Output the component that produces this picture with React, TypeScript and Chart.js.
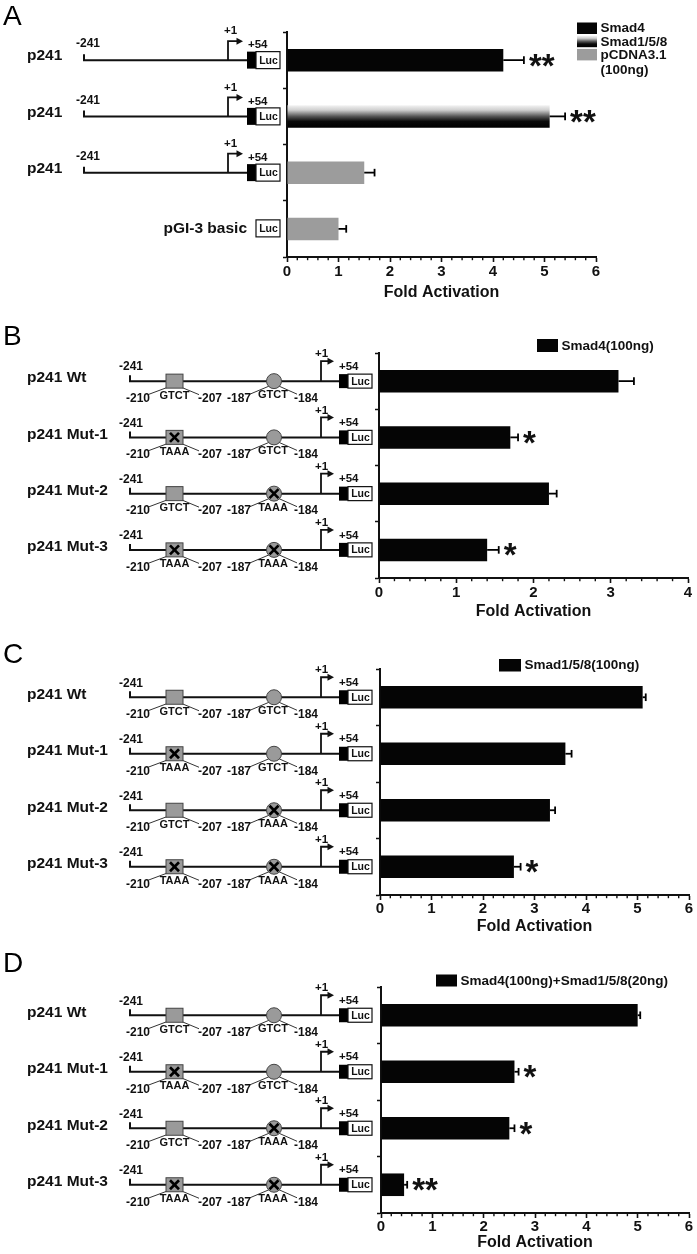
import React, { useEffect, useRef } from 'react';
import { Chart, registerables } from 'chart.js';

Chart.register(...registerables);

const FONT = '"Liberation Sans", Arial, Helvetica, sans-serif';
const INK = '#111111';
const BAR_BLACK = '#050505';
const BAR_GRAY = '#9c9c9c';
const SITE_GRAY = '#9a9a9a';

// ---------------- data ----------------
const xTitle = 'Fold Activation';

// Panel A
const aRows = ['p241', 'p241', 'p241', 'pGI-3 basic'];
const aValues = [4.2, 5.1, 1.5, 1.0];
const aErrors = [0.4, 0.3, 0.2, 0.15];
const aStars = ['**', '**', '', ''];
const aTreatment = ['Smad4', 'Smad1/5/8', 'pCDNA3.1', 'pCDNA3.1'];
const aLegendSeries = ['Smad4', 'Smad1/5/8', 'pCDNA3.1'];
const aLegendNote = '(100ng)';
const aXMax = 6;

// Panel B
const bRows = ['p241 Wt', 'p241 Mut-1', 'p241 Mut-2', 'p241 Mut-3'];
const bValues = [3.1, 1.7, 2.2, 1.4];
const bErrors = [0.2, 0.1, 0.1, 0.15];
const bStars = ['', '*', '', '*'];
const bLegend = 'Smad4(100ng)';
const bXMax = 4;

// Panel C
const cRows = ['p241 Wt', 'p241 Mut-1', 'p241 Mut-2', 'p241 Mut-3'];
const cValues = [5.1, 3.6, 3.3, 2.6];
const cErrors = [0.06, 0.12, 0.1, 0.13];
const cStars = ['', '', '', '*'];
const cLegend = 'Smad1/5/8(100ng)';
const cXMax = 6;

// Panel D
const dRows = ['p241 Wt', 'p241 Mut-1', 'p241 Mut-2', 'p241 Mut-3'];
const dValues = [5.0, 2.6, 2.5, 0.45];
const dErrors = [0.05, 0.08, 0.1, 0.06];
const dStars = ['', '*', '*', '**'];
const dLegend = 'Smad4(100ng)+Smad1/5/8(20ng)';
const dXMax = 6;

// construct annotations
const site1Seq = ['GTCT', 'TAAA', 'GTCT', 'TAAA'];
const site2Seq = ['GTCT', 'GTCT', 'TAAA', 'TAAA'];
const site1Ends = ['-210', '-207'];
const site2Ends = ['-187', '-184'];
const promoterStart = '-241';
const tssLabel = '+1';
const downstreamLabel = '+54';
const reporter = 'Luc';
const mutantSeq = 'TAAA';

// ---------------- layout ----------------
type Box = {
  top: number; height: number; left: number; right: number;
  chartTop: number; chartBottom: number; labelGap: number; titleGap: number;
  letterY: number;
};

type Panel = {
  letter: string;
  kind: 'simple' | 'sites';
  rows: string[];
  values: number[];
  errors: number[];
  stars: string[];
  fills: string[];
  xMax: number;
  legend: { series: string[]; fills: string[]; note?: string; boxX: number; boxY: number; boxW: number; boxH: number; rowH: number };
  box: Box;
};

const fillOf = (s: string) => (s === 'Smad4' ? 'black' : s === 'Smad1/5/8' ? 'gradient' : 'gray');

const PANELS: Panel[] = [
  {
    letter: 'A', kind: 'simple', rows: aRows, values: aValues, errors: aErrors, stars: aStars,
    fills: aTreatment.map(fillOf), xMax: aXMax,
    legend: { series: aLegendSeries, fills: aLegendSeries.map(fillOf), note: aLegendNote, boxX: 577, boxY: 22.5, boxW: 20, boxH: 11.5, rowH: 13.2 },
    box: { top: 0, height: 310, left: 287, right: 596, chartTop: 32, chartBottom: 257, labelGap: 15, titleGap: 36, letterY: 25 },
  },
  {
    letter: 'B', kind: 'sites', rows: bRows, values: bValues, errors: bErrors, stars: bStars,
    fills: bRows.map(() => 'black'), xMax: bXMax,
    legend: { series: [bLegend], fills: ['black'], boxX: 537, boxY: 339, boxW: 21, boxH: 13, rowH: 13 },
    box: { top: 300, height: 330, left: 379, right: 688, chartTop: 353, chartBottom: 578, labelGap: 14.5, titleGap: 34, letterY: 345 },
  },
  {
    letter: 'C', kind: 'sites', rows: cRows, values: cValues, errors: cErrors, stars: cStars,
    fills: cRows.map(() => 'black'), xMax: cXMax,
    legend: { series: [cLegend], fills: ['black'], boxX: 499, boxY: 659, boxW: 22, boxH: 12.5, rowH: 13 },
    box: { top: 615, height: 330, left: 380, right: 689, chartTop: 669, chartBottom: 895, labelGap: 13.5, titleGap: 32, letterY: 663 },
  },
  {
    letter: 'D', kind: 'sites', rows: dRows, values: dValues, errors: dErrors, stars: dStars,
    fills: dRows.map(() => 'black'), xMax: dXMax,
    legend: { series: [dLegend], fills: ['black'], boxX: 436, boxY: 974.5, boxW: 21, boxH: 12, rowH: 13 },
    box: { top: 925, height: 329, left: 381, right: 689, chartTop: 987, chartBottom: 1213, labelGap: 13, titleGap: 30, letterY: 972 },
  },
];

// ---------------- drawing helpers ----------------
function text(ctx: CanvasRenderingContext2D, s: string, x: number, y: number, size: number, align: CanvasTextAlign = 'left', weight = 'bold') {
  ctx.save();
  ctx.font = `${weight} ${size}px ${FONT}`;
  ctx.fillStyle = INK;
  ctx.textAlign = align;
  ctx.textBaseline = 'middle';
  ctx.fillText(s, x, y);
  ctx.restore();
}

function poly(ctx: CanvasRenderingContext2D, pts: number[][], w = 2, color = INK) {
  ctx.save();
  ctx.strokeStyle = color;
  ctx.lineWidth = w;
  ctx.lineCap = 'butt';
  ctx.lineJoin = 'miter';
  ctx.beginPath();
  pts.forEach((p, i) => (i ? ctx.lineTo(p[0], p[1]) : ctx.moveTo(p[0], p[1])));
  ctx.stroke();
  ctx.restore();
}

function arrowHead(ctx: CanvasRenderingContext2D, x: number, y: number) {
  ctx.save();
  ctx.fillStyle = INK;
  ctx.beginPath();
  ctx.moveTo(x, y);
  ctx.lineTo(x - 6.5, y - 3.5);
  ctx.lineTo(x - 6.5, y + 3.5);
  ctx.closePath();
  ctx.fill();
  ctx.restore();
}

function lucBox(ctx: CanvasRenderingContext2D, x0: number, x1: number, y: number, h: number) {
  ctx.save();
  ctx.fillStyle = '#fff';
  ctx.strokeStyle = INK;
  ctx.lineWidth = 1.2;
  ctx.fillRect(x0, y - h / 2, x1 - x0, h);
  ctx.strokeRect(x0, y - h / 2, x1 - x0, h);
  ctx.restore();
  text(ctx, reporter, (x0 + x1) / 2 + 0.5, y + 0.5, 10.5, 'center');
}

function cross(ctx: CanvasRenderingContext2D, cx: number, cy: number, r = 4.5) {
  poly(ctx, [[cx - r, cy - r], [cx + r, cy + r]], 2.6, '#000');
  poly(ctx, [[cx - r, cy + r], [cx + r, cy - r]], 2.6, '#000');
}

function gradientFill(ctx: CanvasRenderingContext2D, y0: number, y1: number) {
  const g = ctx.createLinearGradient(0, y0, 0, y1);
  g.addColorStop(0, '#f4f4f4');
  g.addColorStop(0.22, '#cfcfcf');
  g.addColorStop(0.5, '#555555');
  g.addColorStop(0.72, '#0a0a0a');
  g.addColorStop(1, '#000000');
  return g;
}

function drawSimpleConstruct(ctx: CanvasRenderingContext2D, y: number, label: string, basic: boolean) {
  if (basic) {
    text(ctx, label, 247, y, 15.5, 'right');
    lucBox(ctx, 256, 280, y - 0.5, 17);
    return;
  }
  text(ctx, label, 27, y - 4, 15.5);
  poly(ctx, [[84, y - 6], [84, y], [247, y]], 2);
  text(ctx, promoterStart, 76, y - 16, 12);
  poly(ctx, [[228, y], [228, y - 19], [238, y - 19]], 1.8);
  arrowHead(ctx, 243, y - 19);
  text(ctx, tssLabel, 224, y - 29, 11.5);
  text(ctx, downstreamLabel, 248, y - 15, 11.5);
  ctx.fillStyle = '#000';
  ctx.fillRect(247, y - 8.5, 9, 17);
  lucBox(ctx, 256, 280, y, 17);
}

function drawSiteConstruct(ctx: CanvasRenderingContext2D, y: number, label: string, s1: string, s2: string) {
  text(ctx, label, 27, y - 3, 15.5);
  poly(ctx, [[130, y - 6], [130, y], [339, y]], 2);
  text(ctx, promoterStart, 119, y - 14, 12);
  // connectors
  poly(ctx, [[168, y + 6], [148, y + 13.5]], 1, '#333');
  poly(ctx, [[181, y + 6], [199, y + 13.5]], 1, '#333');
  poly(ctx, [[269, y + 5], [250, y + 13]], 1, '#333');
  poly(ctx, [[279, y + 5], [297, y + 13]], 1, '#333');
  // site 1 (square)
  ctx.save();
  ctx.fillStyle = SITE_GRAY;
  ctx.strokeStyle = '#444';
  ctx.lineWidth = 1;
  ctx.fillRect(166, y - 7, 17, 14);
  ctx.strokeRect(166, y - 7, 17, 14);
  // site 2 (circle)
  ctx.beginPath();
  ctx.arc(274, y, 7.5, 0, Math.PI * 2);
  ctx.fill();
  ctx.stroke();
  ctx.restore();
  if (s1 === mutantSeq) cross(ctx, 174.5, y);
  if (s2 === mutantSeq) cross(ctx, 274, y);
  text(ctx, site1Ends[0], 150, y + 17.5, 12, 'right');
  text(ctx, s1, 174.5, y + 14.5, 11, 'center');
  text(ctx, site1Ends[1], 198, y + 17.5, 12);
  text(ctx, site2Ends[0], 251, y + 17.5, 12, 'right');
  text(ctx, s2, 273, y + 14, 11, 'center');
  text(ctx, site2Ends[1], 294, y + 17.5, 12);
  // TSS
  poly(ctx, [[321, y], [321, y - 20], [329, y - 20]], 1.8);
  arrowHead(ctx, 334, y - 20);
  text(ctx, tssLabel, 315, y - 27, 11.5);
  text(ctx, downstreamLabel, 339, y - 14.5, 11.5);
  ctx.fillStyle = '#000';
  ctx.fillRect(339, y - 7, 9, 14);
  lucBox(ctx, 348, 372, y, 14);
}

const isMajor = (v: number) => Math.abs(v - Math.round(v)) < 1e-6;

function barFill(ctx: CanvasRenderingContext2D, kind: string, y0: number, y1: number) {
  if (kind === 'gradient') return gradientFill(ctx, y0, y1);
  if (kind === 'gray') return BAR_GRAY;
  return BAR_BLACK;
}

function makePlugin(p: Panel) {
  return {
    id: 'figureExtras' + p.letter,
    afterDatasetsDraw(chart: any) {
      const ctx: CanvasRenderingContext2D = chart.ctx;
      const xs = chart.scales.x;
      const ys = chart.scales.y;
      p.values.forEach((v, i) => {
        const y = ys.getPixelForValue(i);
        const x0 = xs.getPixelForValue(v);
        const x1 = xs.getPixelForValue(v + p.errors[i]);
        poly(ctx, [[x0, y], [x1, y]], 1.8, '#000');
        poly(ctx, [[x1, y - 3.8], [x1, y + 3.8]], 1.8, '#000');
        const st = p.stars[i];
        if (st) {
          ctx.save();
          ctx.font = `bold 33px ${FONT}`;
          ctx.fillStyle = INK;
          ctx.textAlign = 'left';
          ctx.textBaseline = 'alphabetic';
          const m = ctx.measureText('*');
          const base = y + (m.actualBoundingBoxAscent - m.actualBoundingBoxDescent) / 2;
          ctx.fillText(st, x1 + 5, base);
          ctx.restore();
        }
      });
    },
    afterDraw(chart: any) {
      const ctx: CanvasRenderingContext2D = chart.ctx;
      const xs = chart.scales.x;
      const ys = chart.scales.y;
      const off = p.box.top;
      // minor ticks
      xs.ticks.forEach((t: any) => {
        if (isMajor(t.value)) return;
        const x = xs.getPixelForValue(t.value);
        poly(ctx, [[x, chart.chartArea.bottom], [x, chart.chartArea.bottom + 3.2]], 1.4, INK);
      });
      // panel letter
      ctx.save();
      ctx.font = `normal 28px ${FONT}`;
      ctx.fillStyle = '#000';
      ctx.textAlign = 'left';
      ctx.textBaseline = 'alphabetic';
      ctx.fillText(p.letter, 3, p.box.letterY - off);
      ctx.restore();
      // constructs
      p.rows.forEach((r, i) => {
        const y = ys.getPixelForValue(i);
        if (p.kind === 'simple') drawSimpleConstruct(ctx, y, r, r.indexOf('basic') >= 0);
        else drawSiteConstruct(ctx, y, r, site1Seq[i], site2Seq[i]);
      });
      // legend
      const L = p.legend;
      L.series.forEach((s, i) => {
        const by = L.boxY - off + i * L.rowH;
        ctx.save();
        ctx.fillStyle = barFill(ctx, L.fills[i], by, by + L.boxH) as any;
        ctx.fillRect(L.boxX, by, L.boxW, L.boxH);
        ctx.restore();
        text(ctx, s, L.boxX + L.boxW + 3.5, by + L.boxH / 2 + 0.5, 13.5);
      });
      if (L.note) {
        const by = L.boxY - off + L.series.length * L.rowH;
        text(ctx, L.note, L.boxX + L.boxW + 3.5, by + L.boxH / 2 + 2.5, 13.5);
      }
    },
  };
}

function makeConfig(p: Panel): any {
  const b = p.box;
  const yW = 5;
  const titleLH = 16 * 1.2;
  const xH = b.titleGap + titleLH / 2;
  const tickLH = 15 * 1.2;
  const tickPad = Math.max(0, b.labelGap - 5 - tickLH / 2);
  const thickness = 0.4;
  return {
    type: 'bar',
    data: {
      labels: p.rows,
      datasets: [
        {
          data: p.values,
          backgroundColor: (c: any) => {
            const chart = c.chart;
            const kind = p.fills[c.dataIndex];
            if (kind !== 'gradient' || !chart.scales || !chart.scales.y) return kind === 'gray' ? BAR_GRAY : BAR_BLACK;
            const ys = chart.scales.y;
            const yc = ys.getPixelForValue(c.dataIndex);
            const half = (ys.height / p.rows.length) * thickness / 2;
            return gradientFill(chart.ctx, yc - half, yc + half);
          },
          borderWidth: 0,
          barPercentage: thickness,
          categoryPercentage: 1,
        },
      ],
    },
    options: {
      indexAxis: 'y',
      responsive: false,
      animation: false,
      events: [],
      layout: {
        padding: {
          left: b.left - yW,
          right: 697 - b.right,
          top: b.chartTop - b.top,
          bottom: b.height - (b.chartBottom - b.top) - xH,
        },
      },
      plugins: { legend: { display: false }, tooltip: { enabled: false }, title: { display: false } },
      scales: {
        x: {
          type: 'linear',
          min: 0,
          max: p.xMax,
          ticks: {
            stepSize: 0.2,
            autoSkip: false,
            maxRotation: 0,
            padding: tickPad,
            color: INK,
            font: { family: FONT, size: 15, weight: 'bold', lineHeight: 1.2 },
            callback: (v: any) => (isMajor(Number(v)) ? String(Math.round(Number(v))) : ''),
          },
          grid: {
            drawOnChartArea: false,
            drawTicks: true,
            tickLength: 5,
            tickWidth: 1.6,
            color: INK,
            tickColor: (c: any) => (c.tick && isMajor(c.tick.value) ? INK : 'rgba(0,0,0,0)'),
          },
          border: { display: true, color: INK, width: 2 },
          title: {
            display: true,
            text: xTitle,
            color: INK,
            padding: 0,
            font: { family: FONT, size: 16, weight: 'bold', lineHeight: 1.2 },
          },
          afterFit: (s: any) => {
            s.height = xH;
          },
        },
        y: {
          type: 'category',
          ticks: { display: false },
          grid: { drawOnChartArea: false, drawTicks: true, tickLength: 4, tickWidth: 1.5, color: INK, offset: true },
          border: { display: true, color: INK, width: 2 },
          afterFit: (s: any) => {
            s.width = yW;
          },
        },
      },
    },
    plugins: [makePlugin(p)],
  };
}

function PanelChart({ panel }: { panel: Panel }) {
  const ref = useRef<HTMLCanvasElement>(null);
  useEffect(() => {
    if (!ref.current) return;
    const chart = new Chart(ref.current, makeConfig(panel));
    return () => chart.destroy();
  }, [panel]);
  return (
    <canvas
      ref={ref}
      width={697}
      height={panel.box.height}
      style={{ position: 'absolute', left: 0, top: panel.box.top, width: 697, height: panel.box.height, display: 'block' }}
    />
  );
}

export default function App() {
  return (
    <div style={{ position: 'absolute', left: 0, top: 0, width: 697, height: 1254, background: '#fff', overflow: 'hidden' }}>
      {PANELS.map((p) => (
        <PanelChart key={p.letter} panel={p} />
      ))}
    </div>
  );
}
